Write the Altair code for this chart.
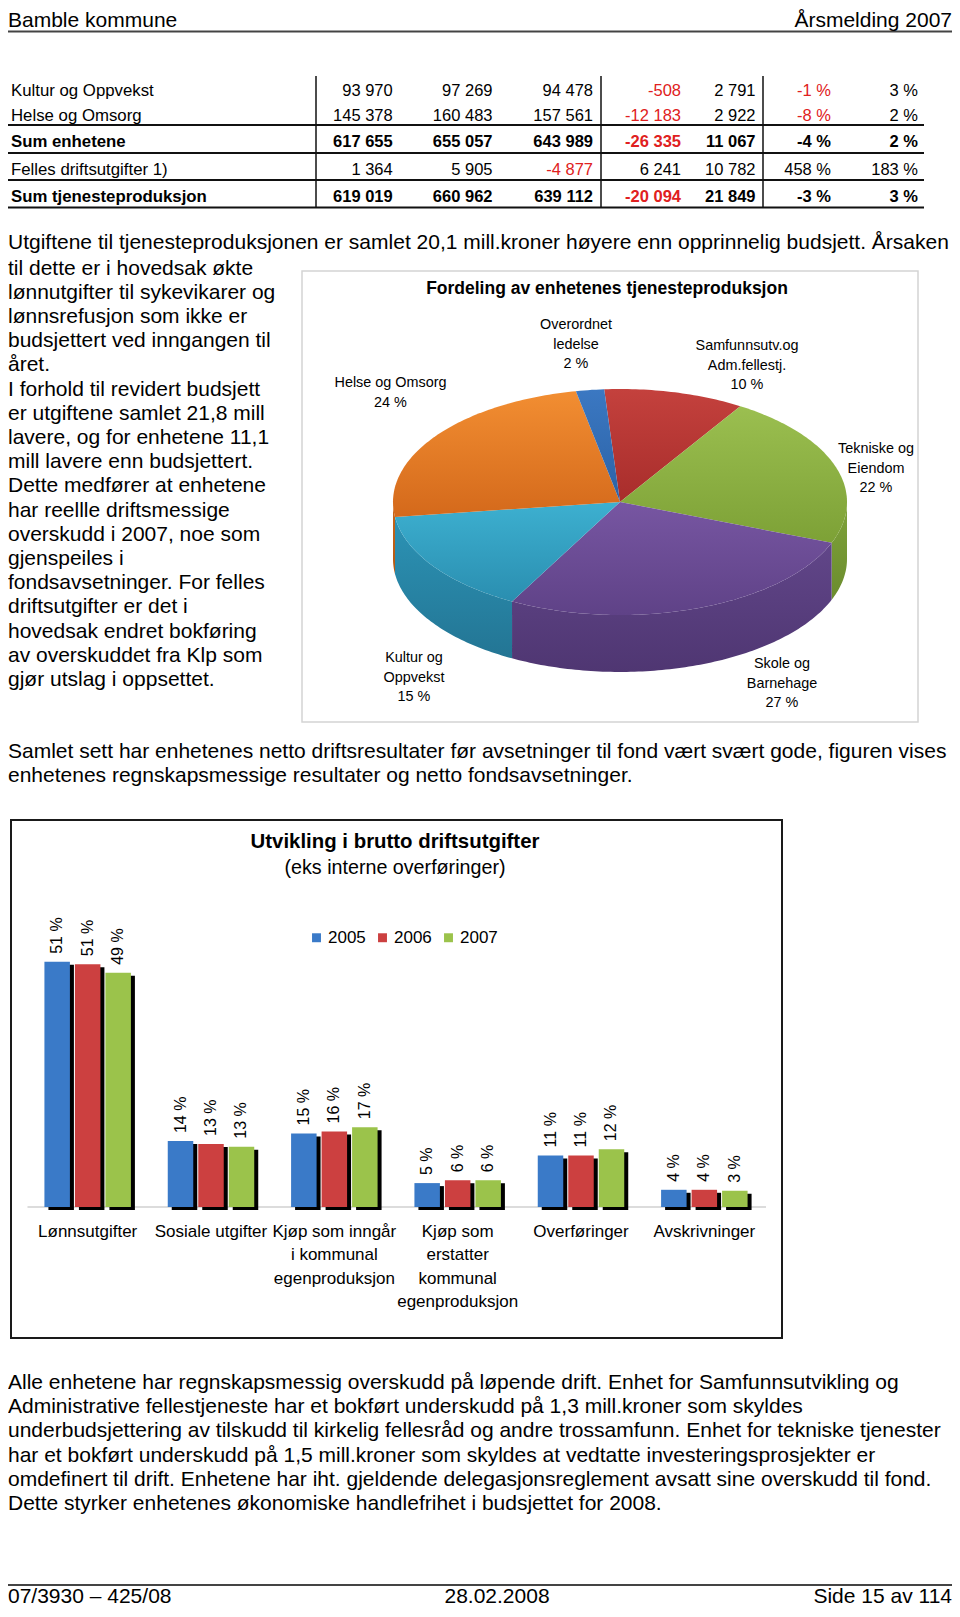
import altair as alt
import numpy as np
import pandas as pd

FONT = "Liberation Sans"
W, H = 944, 1601
MARGIN = 8

# ---------------- data ----------------
header_left = "Bamble kommune"
header_right = "Årsmelding 2007"
footer_left = "07/3930 – 425/08"
footer_mid = "28.02.2008"
footer_right = "Side 15 av 114"

table_rows = ["Kultur og Oppvekst", "Helse og Omsorg", "Sum enhetene",
              "Felles driftsutgifter 1)", "Sum tjenesteproduksjon"]
table_sum_rows = [False, False, True, False, True]
col_1 = [93970, 145378, 617655, 1364, 619019]
col_2 = [97269, 160483, 655057, 5905, 660962]
col_3 = [94478, 157561, 643989, -4877, 639112]
col_4 = [-508, -12183, -26335, 6241, -20094]
col_5 = [2791, 2922, 11067, 10782, 21849]
col_6_pct = [-1, -8, -4, 458, -3]
col_7_pct = [3, 2, 2, 183, 3]

text_intro = ("Utgiftene til tjenesteproduksjonen er samlet 20,1 mill.kroner "
              "høyere enn opprinnelig budsjett. Årsaken")
text_left = [
    "til dette er i hovedsak økte",
    "lønnutgifter til sykevikarer og",
    "lønnsrefusjon som ikke er",
    "budsjettert ved inngangen til",
    "året.",
    "I forhold til revidert budsjett",
    "er utgiftene samlet 21,8 mill",
    "lavere, og for enhetene 11,1",
    "mill lavere enn budsjettert.",
    "Dette medfører at enhetene",
    "har reellle driftsmessige",
    "overskudd i 2007, noe som",
    "gjenspeiles i",
    "fondsavsetninger. For felles",
    "driftsutgifter er det i",
    "hovedsak endret bokføring",
    "av overskuddet fra Klp som",
    "gjør utslag i oppsettet.",
]
text_mid = [
    "Samlet sett har enhetenes netto driftsresultater før avsetninger til fond vært svært gode, figuren vises",
    "enhetenes regnskapsmessige resultater og netto fondsavsetninger.",
]
text_bottom = [
    "Alle enhetene har regnskapsmessig overskudd på løpende drift. Enhet for Samfunnsutvikling og",
    "Administrative fellestjeneste har et bokført underskudd på 1,3 mill.kroner som skyldes",
    "underbudsjettering av tilskudd til kirkelig fellesråd og andre trossamfunn. Enhet for tekniske tjenester",
    "har et bokført underskudd på 1,5 mill.kroner som skyldes at vedtatte investeringsprosjekter er",
    "omdefinert til drift. Enhetene har iht. gjeldende delegasjonsreglement avsatt sine overskudd til fond.",
    "Dette styrker enhetenes økonomiske handlefrihet i budsjettet for 2008.",
]

pie_title = "Fordeling av enhetenes tjenesteproduksjon"
pie_units = ["Samfunnsutv.og\nAdm.fellestj.", "Tekniske og\nEiendom", "Skole og\nBarnehage",
             "Kultur og\nOppvekst", "Helse og Omsorg", "Overordnet\nledelse"]
pie_share = [10, 22, 27, 15, 24, 2]

bar_title = "Utvikling i brutto driftsutgifter"
bar_subtitle = "(eks interne overføringer)"
bar_categories = ["Lønnsutgifter", "Sosiale utgifter", "Kjøp som inngår\ni kommunal\negenproduksjon",
                  "Kjøp som\nerstatter\nkommunal\negenproduksjon", "Overføringer", "Avskrivninger"]
bar_years = ["2005", "2006", "2007"]
share_2005 = [51.3, 13.8, 15.4, 5.0, 10.8, 3.6]
share_2006 = [50.8, 13.2, 15.8, 5.6, 10.8, 3.6]
share_2007 = [49.0, 12.6, 16.7, 5.6, 12.1, 3.4]

# ---------------- layout / style ----------------
def px(v):
    return v - MARGIN

BLACK = "#000000"
RED = "#E02020"
BAR_COLORS = ["#3A7AC8", "#CC4040", "#9BC34B"]
PIE_TOP = [("#C4413D", "#A82D2B"), ("#9BBF50", "#7DA136"), ("#7756A2", "#5F4287"),
           ("#3DB0D0", "#2A8EB0"), ("#F28E32", "#D4691B"), ("#3B78C2", "#2B62A6")]
PIE_SIDE = [("#A3302D", "#8A2624"), ("#7FA33A", "#6B8C2E"), ("#614689", "#4F3672"),
            ("#2C93B5", "#237594"), ("#C9661A", "#B35812"), ("#2B5E9C", "#234F84")]

texts = []


def add(text, x, y, size, align="left", weight="normal", color=BLACK):
    texts.append(dict(text=text, x=px(x), y=px(y), size=size, align=align,
                      weight=weight, color=color))


BODY = 21
add(header_left, 8, 20.5, 21)
add(header_right, 952, 20.5, 21, "right")

row_y = [90.7, 115.5, 142.3, 170.0, 197.3]
col_right = [392.7, 492.5, 593.0, 681.0, 755.5, 831.0, 918.0]
cols = [col_1, col_2, col_3, col_4, col_5, col_6_pct, col_7_pct]
for r, lab in enumerate(table_rows):
    wt = "bold" if table_sum_rows[r] else "normal"
    add(lab, 11, row_y[r], 16.8, "left", wt)
    for c, col in enumerate(cols):
        v = col[r]
        s = f"{v:,}".replace(",", " ") if c < 5 else f"{v} %"
        red = v < 0 and not (c == 5 and table_sum_rows[r])
        add(s, col_right[c], row_y[r], 16.5, "right", wt, RED if red else BLACK)

add(text_intro, 8, 243, BODY)
for i, line in enumerate(text_left):
    add(line, 8, 268.5 + i * 24.2, BODY)
for i, line in enumerate(text_mid):
    add(line, 8, 751.7 + i * 24.2, BODY)
for i, line in enumerate(text_bottom):
    add(line, 8, 1383 + i * 24.2, BODY)

add(footer_left, 8, 1597, BODY)
add(footer_mid, 497, 1597, BODY, "center")
add(footer_right, 952, 1597, BODY, "right")

# pie chart texts
add(pie_title, 607, 289, 17.5, "center", "bold")
pie_label_pos = [(747, 346), (876, 449), (782, 664), (414, 658), (390.5, 383), (576, 325)]
for name, pct, (lx, ly) in zip(pie_units, pie_share, pie_label_pos):
    for j, line in enumerate(name.split("\n") + [f"{pct} %"]):
        add(line, lx, ly + j * 19.5, 14.4, "center")

# bar chart titles
add(bar_title, 395, 841.7, 20.4, "center", "bold")
add(bar_subtitle, 395, 868, 19.7, "center")

tdf = pd.DataFrame(texts)
text_layers = []
for (al, wt), g in tdf.groupby(["align", "weight"]):
    text_layers.append(
        alt.Chart(g).mark_text(align=al, baseline="middle", font=FONT, fontWeight=wt).encode(
            x=alt.X("x:Q", scale=None, axis=None),
            y=alt.Y("y:Q", scale=None, axis=None),
            text="text:N",
            size=alt.Size("size:Q", scale=None, legend=None),
            color=alt.Color("color:N", scale=None, legend=None),
        )
    )

# lines
rules = []


def rule(x1, x2, y1, y2, color, w):
    rules.append(dict(x=px(x1), x2=px(x2), y=px(y1), y2=px(y2), color=color, w=w))


rule(8, 952, 31.5, 31.5, "#444444", 2)          # header line
rule(8, 952, 1585, 1585, "#444444", 2)          # footer line
for yy in [125, 153, 180, 207.5]:
    rule(8, 924, yy, yy, "#111111", 2.2)
for xx in [316, 601, 763]:
    rule(xx, xx, 76, 207.5, "#111111", 1.5)

rdf = pd.DataFrame(rules)
rule_layer = alt.Chart(rdf).mark_rule().encode(
    x=alt.X("x:Q", scale=None, axis=None), x2="x2:Q",
    y=alt.Y("y:Q", scale=None, axis=None), y2="y2:Q",
    color=alt.Color("color:N", scale=None, legend=None),
    strokeWidth=alt.StrokeWidth("w:Q", scale=None, legend=None),
)

boxes = pd.DataFrame([
    dict(x=px(302), x2=px(918), y=px(271), y2=px(722), color="#D4D4D4", w=1.5),
    dict(x=px(11), x2=px(782), y=px(820), y2=px(1338), color="#1A1A1A", w=2),
])
box_layer = alt.Chart(boxes).mark_rect(fillOpacity=0).encode(
    x=alt.X("x:Q", scale=None, axis=None), x2="x2:Q",
    y=alt.Y("y:Q", scale=None, axis=None), y2="y2:Q",
    stroke=alt.Stroke("color:N", scale=None, legend=None),
    strokeWidth=alt.StrokeWidth("w:Q", scale=None, legend=None),
)

# ---------------- 3D pie ----------------
def grad(c1, c2):
    return alt.LinearGradient(
        gradient="linear",
        stops=[alt.GradientStop(color=c1, offset=0), alt.GradientStop(color=c2, offset=1)],
        x1=0, x2=0, y1=0, y2=1,
    )


pie_x = alt.Scale(domain=[-1, 1], range=[px(393), px(847)], nice=False, zero=False)
pie_y = alt.Scale(domain=[-1, 1], range=[px(615), px(389)], nice=False, zero=False)
DEPTH = 0.504
start = np.deg2rad(-4)
bounds = start + 2 * np.pi * np.concatenate([[0], np.cumsum(pie_share)]) / sum(pie_share)

side_layers, top_layers = [], []
for k in range(len(pie_share)):
    a, b = bounds[k], bounds[k + 1]
    n = max(4, int(np.degrees(b - a))) + 1
    ts = np.linspace(a, b, n)
    pts = [(0.0, 0.0)] + [(np.sin(t), np.cos(t)) for t in ts]
    df = pd.DataFrame(pts, columns=["x", "y"])
    df["i"] = range(len(df))
    top_layers.append(
        alt.Chart(df).mark_line(filled=True, fill=grad(*PIE_TOP[k]), strokeWidth=0).encode(
            x=alt.X("x:Q", scale=pie_x, axis=None),
            y=alt.Y("y:Q", scale=pie_y, axis=None),
            order="i:Q",
        )
    )
    lo, hi = max(a, np.pi / 2), min(b, 1.5 * np.pi)
    if hi > lo:
        m = max(3, int(np.degrees(hi - lo))) + 1
        ts = np.linspace(lo, hi, m)
        upper = [(np.sin(t), np.cos(t)) for t in ts]
        lower = [(np.sin(t), np.cos(t) - DEPTH) for t in ts[::-1]]
        sdf = pd.DataFrame(upper + lower, columns=["x", "y"])
        sdf["i"] = range(len(sdf))
        side_layers.append(
            alt.Chart(sdf).mark_line(filled=True, fill=grad(*PIE_SIDE[k]), strokeWidth=0).encode(
                x=alt.X("x:Q", scale=pie_x, axis=None),
                y=alt.Y("y:Q", scale=pie_y, axis=None),
                order="i:Q",
            )
        )

pie_chart = alt.layer(*side_layers, *top_layers)

# ---------------- bar chart ----------------
rows = []
for yr, vals in zip(bar_years, [share_2005, share_2006, share_2007]):
    for cat, v in zip(bar_categories, vals):
        rows.append(dict(category=cat, year=yr, value=v, label=f"{round(v)} %"))
bdf = pd.DataFrame(rows)

PX_PER_PCT = 4.78
BASE = 1207
X0, X1 = 26, 766
bxo = alt.Scale(domain=bar_years, paddingInner=0.164, paddingOuter=0.604)


def bx(shift=0):
    return alt.Scale(domain=bar_categories, range=[px(X0 + shift), px(X1 + shift)],
                     paddingInner=0, paddingOuter=0)


def by(shift=0):
    return alt.Scale(domain=[0, 60], range=[px(BASE + shift), px(BASE + shift) - 60 * PX_PER_PCT],
                     nice=False, zero=False)


X = alt.X("category:N", scale=bx(), axis=None, sort=bar_categories)
XO = alt.XOffset("year:N", scale=bxo, sort=bar_years)
Y = alt.Y("value:Q", scale=by(), axis=None)

# drop shadow: same bars through scales shifted 4px right / 3px down
shadow = alt.Chart(bdf).mark_bar(color="#000000").encode(
    x=alt.X("category:N", scale=bx(4), axis=None, sort=bar_categories),
    xOffset=XO,
    y=alt.Y("value:Q", scale=by(3), axis=None),
    y2=alt.value(px(BASE)),
)

baseline = alt.Chart(pd.DataFrame({"v": [0]})).mark_rule(color="#D0D0D0", strokeWidth=1.5).encode(
    y=alt.Y("v:Q", scale=by(), axis=None),
    x=alt.value(px(27.5)), x2=alt.value(px(766)),
)

bars = alt.Chart(bdf).mark_bar().encode(
    x=X, xOffset=XO, y=Y,
    color=alt.Color(
        "year:N",
        scale=alt.Scale(domain=bar_years, range=BAR_COLORS),
        legend=alt.Legend(
            orient="none", legendX=px(308), legendY=px(929), direction="horizontal",
            title=None, symbolType="square", symbolSize=80, symbolStrokeWidth=0,
            labelFontSize=17, labelFont=FONT, labelColor="#000000", labelOffset=3,
            columnPadding=8, padding=0,
        ),
    ),
)
value_labels = alt.Chart(bdf).mark_text(
    angle=270, align="left", baseline="middle", yOffset=-8, font=FONT, fontSize=16, color="#000000"
).encode(x=X, xOffset=XO, y=Y, text="label:N")

bar_chart = alt.layer(bars, value_labels)

cat_rows = []
for cat in bar_categories:
    for j, line in enumerate(cat.split("\n")):
        cat_rows.append(dict(category=cat, line=line, y=px(1231.7 + j * 23.5)))
cdf = pd.DataFrame(cat_rows)
cat_labels = alt.Chart(cdf).mark_text(font=FONT, fontSize=17, baseline="middle", color="#000000").encode(
    x=alt.X("category:N", scale=bx(), axis=None, sort=bar_categories),
    y=alt.Y("y:Q", scale=None, axis=None),
    text="line:N",
)

chart = alt.layer(
    box_layer, rule_layer, *text_layers, pie_chart, baseline, shadow, bar_chart, cat_labels
).resolve_scale(
    x="independent", y="independent", color="independent", size="independent",
    stroke="independent", strokeWidth="independent", xOffset="independent",
).properties(
    width=W, height=H, padding=0, background="#FFFFFF",
    autosize=alt.AutoSizeParams(type="none"),
).configure_view(strokeWidth=0)

chart.save("out.html", embed_options={"renderer": "svg", "actions": False})
